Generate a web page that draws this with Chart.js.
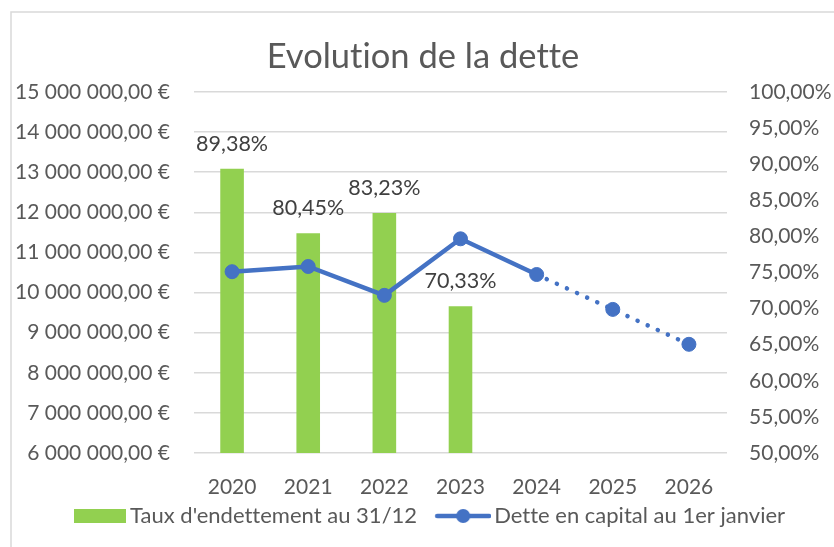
<!DOCTYPE html>
<html>
<head>
<meta charset="utf-8">
<script src="https://cdn.jsdelivr.net/npm/chart.js@4.4.1/dist/chart.umd.min.js"></script>
<style>
  html, body { margin: 0; padding: 0; background: #fff; }
  #wrap { width: 834px; height: 547px; position: relative; }
</style>
</head>
<body>
<div id="wrap"><canvas id="detteChart"></canvas></div>
<script>
const years = ['2020', '2021', '2022', '2023', '2024', '2025', '2026'];
const tauxEndettement = [0.8938, 0.8045, 0.8323, 0.7033, null, null, null];
const detteCapital = [10520000, 10650000, 9930000, 11340000, 10450000, 9580000, 8710000];
const firstProjected = 4; // from 2024 on the line is dotted

const FONT = 'Lato';
const GREY = '#595959';
const GRID = '#d9d9d9';
const GREEN = '#92d050';
const BLUE = '#4472c4';

function euro(v) {
  const s = Math.round(v).toString().replace(/\B(?=(\d{3})+(?!\d))/g, ' ');
  return s + ',00 €';
}
function pct(v) {
  return (v * 100).toFixed(2).replace('.', ',') + '%';
}

// legend symbols drawn on small canvases
function barSymbol() {
  const c = document.createElement('canvas');
  c.width = 70; c.height = 14;
  const g = c.getContext('2d');
  g.fillStyle = GREEN;
  g.fillRect(18, 0, 52, 14);
  return c;
}
function lineSymbol() {
  const c = document.createElement('canvas');
  c.width = 72; c.height = 16;
  const g = c.getContext('2d');
  g.strokeStyle = BLUE;
  g.lineWidth = 4.5;
  g.lineCap = 'round';
  g.beginPath(); g.moveTo(18, 8); g.lineTo(70, 8); g.stroke();
  g.fillStyle = BLUE;
  g.beginPath(); g.arc(44, 8, 7, 0, Math.PI * 2); g.fill();
  return c;
}

const frame = {
  id: 'frame',
  beforeDraw(chart) {
    const { ctx, width, height } = chart;
    // tiny spacing keeps Lato from using its "ti" ligature
    ctx.letterSpacing = '0.01px';
    ctx.save();
    ctx.strokeStyle = GRID;
    ctx.lineWidth = 1.5;
    ctx.beginPath();
    ctx.moveTo(11, height);
    ctx.lineTo(11, 12);
    ctx.lineTo(width, 12);
    ctx.stroke();
    ctx.restore();
  }
};

const barLabels = {
  id: 'barLabels',
  afterDatasetsDraw(chart) {
    const { ctx } = chart;
    const meta = chart.getDatasetMeta(0);
    ctx.save();
    ctx.font = '21.5px ' + FONT;
    ctx.fillStyle = '#404040';
    ctx.textAlign = 'center';
    ctx.textBaseline = 'middle';
    meta.data.forEach((bar, i) => {
      const v = tauxEndettement[i];
      if (v == null) return;
      ctx.fillText(pct(v), bar.x, bar.y - 25);
    });
    ctx.restore();
  }
};

new Chart(document.getElementById('detteChart'), {
  type: 'bar',
  data: {
    labels: years,
    datasets: [{
      label: "Taux d'endettement au 31/12",
      data: tauxEndettement,
      backgroundColor: GREEN,
      yAxisID: 'yPct',
      barPercentage: 0.31,
      categoryPercentage: 1,
      order: 1
    }, {
      type: 'line',
      label: 'Dette en capital au 1er janvier',
      data: detteCapital,
      borderColor: BLUE,
      backgroundColor: BLUE,
      borderWidth: 4.5,
      pointRadius: 7,
      pointHoverRadius: 7,
      pointBackgroundColor: BLUE,
      pointBorderColor: BLUE,
      pointBorderWidth: 1,
      yAxisID: 'yEur',
      order: 0,
      segment: {
        borderDash: c => c.p0DataIndex >= firstProjected ? [0.1, 11] : undefined,
        borderCapStyle: c => c.p0DataIndex >= firstProjected ? 'round' : 'butt'
      }
    }]
  },
  options: {
    responsive: true,
    maintainAspectRatio: false,
    animation: false,
    layout: { padding: { left: 12, right: 0, top: 18, bottom: 10 } },
    plugins: {
      title: {
        display: true,
        text: 'Evolution de la dette',
        color: GREY,
        font: { family: FONT, size: 34.5, weight: 'normal', lineHeight: 1.2 },
        padding: { top: 18.3, bottom: 14.3 }
      },
      legend: {
        position: 'bottom',
        labels: {
          usePointStyle: true,
          pointStyleWidth: 56,
          boxHeight: 14,
          padding: 10,
          color: GREY,
          font: { family: FONT, size: 22 },
          generateLabels(chart) {
            return [
              { text: "Taux d'endettement au 31/12", pointStyle: barSymbol(), fillStyle: GREEN, strokeStyle: GREEN, lineWidth: 0, datasetIndex: 0, fontColor: GREY },
              { text: 'Dette en capital au 1er janvier', pointStyle: lineSymbol(), fillStyle: BLUE, strokeStyle: BLUE, lineWidth: 0, datasetIndex: 1, fontColor: GREY }
            ];
          }
        }
      },
      tooltip: { enabled: false }
    },
    scales: {
      x: {
        grid: { display: false },
        border: { display: false },
        ticks: { color: GREY, padding: 14, font: { family: FONT, size: 21 } },
        afterFit(s) { s.height = 42; }
      },
      yEur: {
        position: 'left',
        min: 6000000,
        max: 15000000,
        grid: { color: GRID, lineWidth: 1.5, drawTicks: false },
        border: { display: false },
        ticks: { stepSize: 1000000, color: GREY, padding: 24, font: { family: FONT, size: 21 }, callback: v => euro(v) },
        afterFit(s) { s.width = 182; }
      },
      yPct: {
        position: 'right',
        min: 0.5,
        max: 1,
        grid: { display: false, drawTicks: false },
        border: { display: false },
        ticks: { stepSize: 0.05, color: GREY, padding: 22, font: { family: FONT, size: 21 }, callback: v => pct(v) },
        afterFit(s) { s.width = 107; }
      }
    }
  },
  plugins: [frame, barLabels]
});
</script>
</body>
</html>
